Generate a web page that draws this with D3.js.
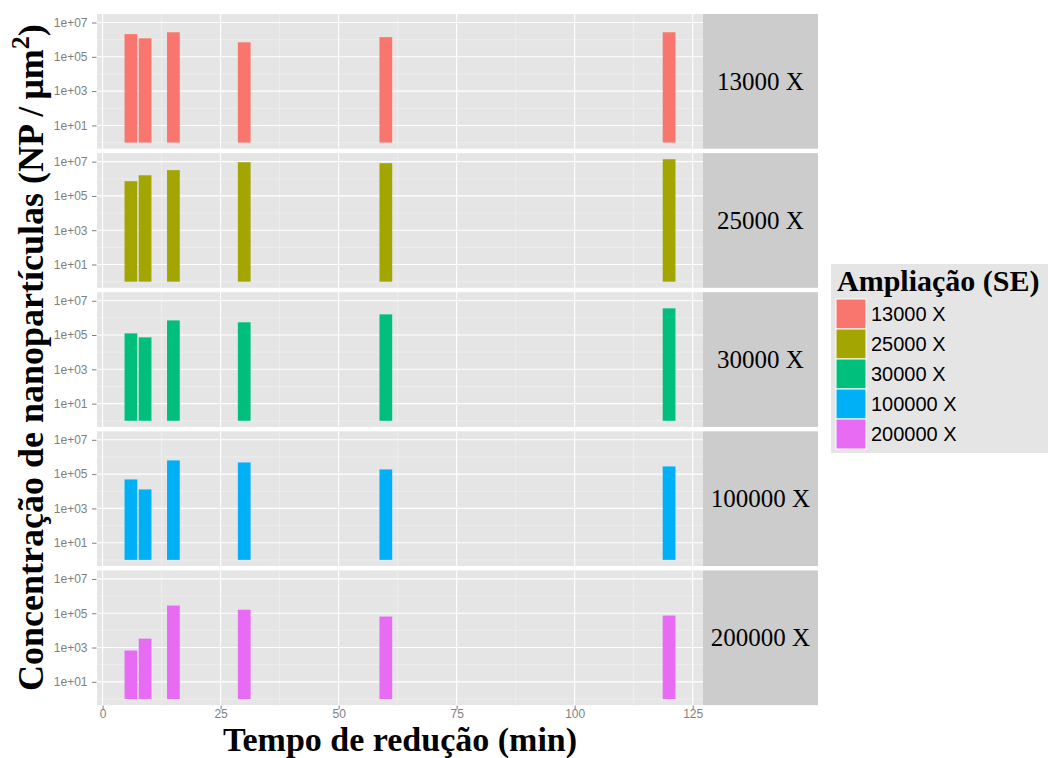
<!DOCTYPE html>
<html>
<head>
<meta charset="utf-8">
<script src="https://cdn.jsdelivr.net/npm/d3@7"></script>
<style>
  html, body { margin: 0; padding: 0; background: #ffffff; }
  svg { display: block; }
</style>
</head>
<body>
<svg id="chart" width="1048" height="758"></svg>
<script>
// ---- data ----
const times = [6, 9, 15, 30, 60, 120];
const magnifications = ["13000 X", "25000 X", "30000 X", "100000 X", "200000 X"];
const conc13000  = [2.1e6, 1.2e6, 2.7e6, 7.0e5, 1.4e6, 2.7e6];
const conc25000  = [7.2e5, 1.6e6, 3.2e6, 9.2e6, 8.1e6, 1.38e7];
const conc30000  = [1.25e5, 7.3e4, 7.1e5, 5.5e5, 1.6e6, 3.6e6];
const conc100000 = [4.9e4, 1.28e4, 6.3e5, 4.8e5, 1.87e5, 2.8e5];
const conc200000 = [6.7e2, 3.3e3, 2.8e5, 1.6e5, 6.4e4, 7.3e4];
const seriesValues = [conc13000, conc25000, conc30000, conc100000, conc200000];
const colors = ["#F8766D", "#A3A500", "#00BF7D", "#00B0F6", "#E76BF3"];
const xTickValues = [0, 25, 50, 75, 100, 125];
const xMinorValues = [12.5, 37.5, 62.5, 87.5, 112.5];
const yTickValues = [1e1, 1e3, 1e5, 1e7];
const yMinorValues = [1e0, 1e2, 1e4, 1e6];
const barWidth = 2.7;
const xTitle = "Tempo de redução (min)";
const legendTitle = "Ampliação (SE)";

// ---- layout ----
const svg = d3.select("#chart");
const panelLeft = 97, panelRight = 703;
const stripRight = 818;
const panelTop0 = 14, panelH = 134.7, panelGap = 4.4;

// x scale with ggplot-style 5% expansion
const xmin = d3.min(times) - barWidth / 2, xmax = d3.max(times) + barWidth / 2;
const xpad = (xmax - xmin) * 0.05;
const x = d3.scaleLinear().domain([xmin - xpad, xmax + xpad]).range([panelLeft, panelRight]);

// y domain in log space, from 0 (value 1) to max with 5% expansion
const lmax = Math.log10(d3.max(seriesValues.flat()));
const lpad = lmax * 0.05;

const fmt = d => "1e+" + String(Math.round(Math.log10(d))).padStart(2, "0");

magnifications.forEach((mag, i) => {
  const top = panelTop0 + i * (panelH + panelGap);
  const bottom = top + panelH;
  const y = d3.scaleLog().domain([Math.pow(10, -lpad), Math.pow(10, lmax + lpad)]).range([bottom, top]);
  const g = svg.append("g");

  // panel background
  g.append("rect").attr("x", panelLeft).attr("y", top)
    .attr("width", panelRight - panelLeft).attr("height", panelH).attr("fill", "#E5E5E5");

  // minor grid
  g.selectAll(".ymin").data(yMinorValues).enter().append("line")
    .attr("x1", panelLeft).attr("x2", panelRight)
    .attr("y1", d => y(d)).attr("y2", d => y(d))
    .attr("stroke", "#F2F2F2").attr("stroke-width", 0.6);
  g.selectAll(".xmin").data(xMinorValues).enter().append("line")
    .attr("y1", top).attr("y2", bottom)
    .attr("x1", d => x(d)).attr("x2", d => x(d))
    .attr("stroke", "#F2F2F2").attr("stroke-width", 0.6);
  // major grid
  g.selectAll(".ymaj").data(yTickValues).enter().append("line")
    .attr("x1", panelLeft).attr("x2", panelRight)
    .attr("y1", d => y(d)).attr("y2", d => y(d))
    .attr("stroke", "#FFFFFF").attr("stroke-width", 1.1);
  g.selectAll(".xmaj").data(xTickValues).enter().append("line")
    .attr("y1", top).attr("y2", bottom)
    .attr("x1", d => x(d)).attr("x2", d => x(d))
    .attr("stroke", "#FFFFFF").attr("stroke-width", 1.1);

  // bars
  g.selectAll(".bar").data(times.map((t, j) => ({ t, v: seriesValues[i][j] })))
    .enter().append("rect")
    .attr("x", d => x(d.t - barWidth / 2))
    .attr("width", d => x(d.t + barWidth / 2) - x(d.t - barWidth / 2))
    .attr("y", d => y(d.v))
    .attr("height", d => y(1) - y(d.v))
    .attr("fill", colors[i]);

  // y axis
  const ax = g.append("g").attr("transform", `translate(${panelLeft - 0.5},0)`)
    .call(d3.axisLeft(y).tickValues(yTickValues).tickFormat(fmt).tickSize(4.5).tickPadding(4.5));
  ax.select(".domain").remove();
  ax.selectAll("line").attr("stroke", "#7F7F7F");
  ax.selectAll("text").attr("fill", "#7F7F7F")
    .style("font-family", "'Liberation Sans', Arial, sans-serif").style("font-size", "12px");

  // strip
  g.append("rect").attr("x", panelRight).attr("y", top)
    .attr("width", stripRight - panelRight).attr("height", panelH).attr("fill", "#CCCCCC");
  g.append("text").attr("x", (panelRight + stripRight) / 2).attr("y", top + panelH / 2)
    .attr("text-anchor", "middle").attr("dominant-baseline", "central")
    .style("font-family", "'Liberation Serif', 'Times New Roman', serif").style("font-size", "25px")
    .attr("fill", "#000").text(mag);

  if (i === magnifications.length - 1) {
    const xa = svg.append("g").attr("transform", `translate(0,${bottom + 0.5})`)
      .call(d3.axisBottom(x).tickValues(xTickValues).tickFormat(d3.format("d")).tickSize(3.5).tickPadding(0.5));
    xa.select(".domain").remove();
    xa.selectAll("line").attr("stroke", "#7F7F7F");
    xa.selectAll("text").attr("fill", "#7F7F7F")
      .style("font-family", "'Liberation Sans', Arial, sans-serif").style("font-size", "12px");
  }
});

// axis titles
svg.append("text").attr("x", (panelLeft + panelRight) / 2).attr("y", 750.5)
  .attr("text-anchor", "middle")
  .style("font-family", "'Liberation Serif', 'Times New Roman', serif")
  .style("font-size", "34px").style("font-weight", "bold").text(xTitle);

const yt = svg.append("text")
  .attr("transform", `translate(43,${(panelTop0 + panelTop0 + 5 * panelH + 4 * panelGap) / 2 - 2}) rotate(-90)`)
  .attr("text-anchor", "middle")
  .style("font-family", "'Liberation Serif', 'Times New Roman', serif")
  .style("font-size", "36px").style("font-weight", "bold");
yt.append("tspan").text("Concentração de nanopartículas (NP\u2009/\u2009μm");
yt.append("tspan").attr("dy", -14).style("font-size", "26px").text("2");
yt.append("tspan").attr("dy", 14).text(")");

// legend
const lg = svg.append("g");
lg.append("rect").attr("x", 831).attr("y", 264).attr("width", 217).attr("height", 189).attr("fill", "#E5E5E5");
lg.append("text").attr("x", 837).attr("y", 291)
  .style("font-family", "'Liberation Serif', 'Times New Roman', serif")
  .style("font-size", "30px").style("font-weight", "bold").text(legendTitle);
magnifications.forEach((mag, i) => {
  const ky = 299 + i * 30;
  lg.append("rect").attr("x", 836).attr("y", ky).attr("width", 30).attr("height", 30)
    .attr("fill", colors[i]).attr("stroke", "#FFFFFF").attr("stroke-width", 1);
  lg.append("text").attr("x", 871).attr("y", ky + 15).attr("dominant-baseline", "central")
    .style("font-family", "'Liberation Sans', Arial, sans-serif").style("font-size", "20px")
    .attr("fill", "#000").text(mag);
});
</script>
</body>
</html>
